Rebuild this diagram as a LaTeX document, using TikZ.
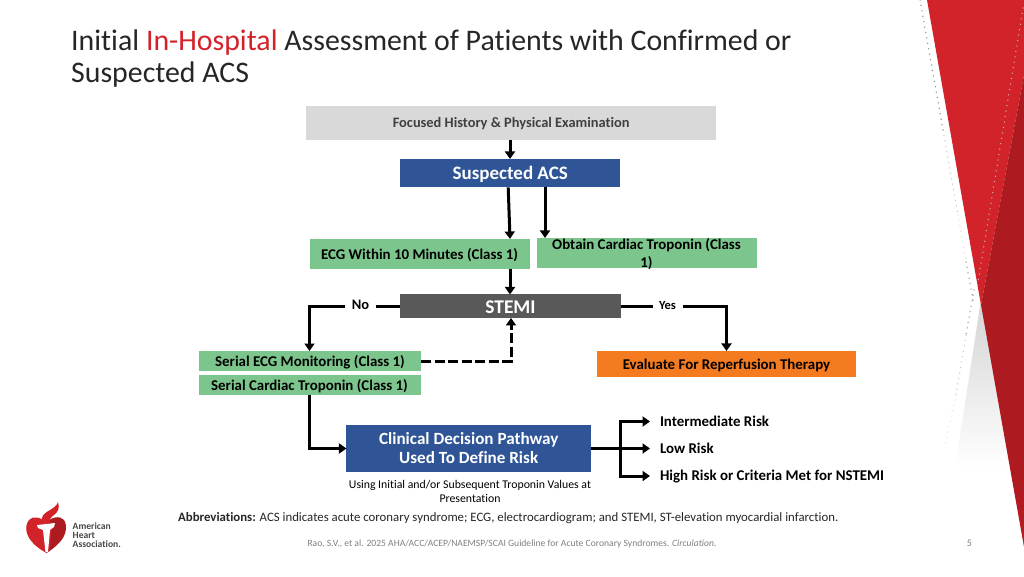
\documentclass[tikz,border=0pt]{standalone}
\usepackage{fontspec}
\setmainfont[Ligatures=NoCommon]{Carlito}
\usetikzlibrary{arrows.meta,calc}
\definecolor{ahared}{HTML}{D2232A}
\definecolor{ahadark}{HTML}{AD1A20}
\definecolor{titleink}{HTML}{262626}
\definecolor{boxblue}{HTML}{2F5597}
\definecolor{boxgreen}{HTML}{7CC68D}
\definecolor{boxgrey}{HTML}{D9D9D9}
\definecolor{boxdark}{HTML}{595959}
\definecolor{boxorange}{HTML}{F47B20}
\pgfdeclareverticalshading{ahafade}{100bp}{color(0bp)=(ahared); color(10bp)=(ahared); color(33bp)=(ahadark); color(100bp)=(ahadark)}
\newcommand{\fs}[1]{\fontsize{#1}{#1}\selectfont}
\newcommand{\lowered}[2][1pt]{\raisebox{-#1}[\height][\depth]{#2}}
\tikzset{
  x=1pt,y=-1pt,
  flowbox/.style={rectangle,inner sep=0pt,outer sep=0pt,align=center,font=\bfseries\fs{14.9}},
  conn/.style={line width=3pt,draw=black,-{Triangle[length=7.5pt,width=10pt]}},
  plainconn/.style={line width=3pt,draw=black},
  plainlabel/.style={inner sep=0pt,outer sep=0pt,font=\bfseries\fs{14.5},text=black},
  dotline/.style={line width=1.5pt,line cap=round,dash pattern=on 0pt off 5.5pt},
}
\begin{document}
\begin{tikzpicture}
\useasboundingbox (0,0) rectangle (1024,576);
\fill[white] (0,0) rectangle (1024,576);
% corner decoration
\shade[top color=black!17,bottom color=white] (981,300) -- (955,468) -- (1012,468) -- cycle;
\fill[ahared] (927,0) -- (1024,0) -- (1024,75) -- (981,305) -- cycle;
\shade[shading=ahafade] (1024,75) -- (981,305) -- (1024,547) -- cycle;
\draw[dotline,black!45] (920,0) -- (943,130);
\draw[dotline,black!22] (943,130) -- (958,215);
\draw[dotline,black!12] (958,215) -- (966,262);
\draw[dotline,black!40] (966,262) -- (974,305);
\draw[dotline,black!38] (974,290) -- (966,335);
\draw[dotline,black!22] (966,335) -- (955,400);
\draw[dotline,black!10] (955,400) -- (945,445);
\draw[dotline,color=ahared!45!black!35!white] (1023,8) -- (977,288);
% title
\node[anchor=base west,inner sep=0pt,text=titleink,font=\fs{29.85}] (title1) at (71,50.5) {Initial \textcolor{ahared}{In-Hospital} Assessment of Patients with Confirmed or};
\node[anchor=base west,inner sep=0pt,text=titleink,font=\fs{29.85}] (title2) at (71,82.5) {Suspected ACS};
% boxes
\node[flowbox,fill=boxgrey,text=black!75,minimum width=410.5pt,minimum height=34pt,font=\bfseries\fs{14.4}] (hist) at (511.2,122.5) {\lowered{Focused History \& Physical Examination}};
\node[flowbox,fill=boxblue,text=white,minimum width=220.5pt,minimum height=28.5pt,font=\bfseries\fs{19}] (acs) at (510.2,173.2) {\lowered{Suspected ACS}};
\node[flowbox,fill=boxgreen,text=black,minimum width=220pt,minimum height=30.5pt] (ecg) at (419.5,254.2) {\lowered{ECG Within 10 Minutes (Class 1)}};
\node[flowbox,fill=boxgreen,minimum width=220pt,minimum height=30.5pt,label={[inner sep=0pt,align=center,text=black,font=\bfseries\fontsize{14.9}{18}\selectfont,yshift=-1pt]center:{Obtain Cardiac Troponin (Class\\1)}}] (trop) at (646.5,253.2) {};
\node[flowbox,fill=boxdark,text=white,minimum width=221pt,minimum height=23.5pt,font=\bfseries\fs{19.4}] (stemi) at (510.5,306.2) {\lowered{STEMI}};
\node[flowbox,fill=boxgreen,text=black,minimum width=222pt,minimum height=20pt] (secg) at (310,361) {\lowered{Serial ECG Monitoring (Class 1)}};
\node[flowbox,fill=boxgreen,text=black,minimum width=222pt,minimum height=19.5pt] (strop) at (309.5,385.2) {\lowered{Serial Cardiac Troponin (Class 1)}};
\node[flowbox,fill=boxorange,text=black,minimum width=259pt,minimum height=26.5pt] (reperf) at (726.5,364.2) {\lowered[1.5pt]{Evaluate For Reperfusion Therapy}};
\node[flowbox,fill=boxblue,text=white,minimum width=244.5pt,minimum height=47pt,font=\bfseries\fontsize{17.1}{19}\selectfont] (cdp) at (468.7,448.5) {Clinical Decision Pathway\\Used To Define Risk};
% labels
\node[plainlabel,minimum width=31pt] (no) at (360.5,304.5) {No};
\node[plainlabel,minimum width=30pt,font=\bfseries\fs{12.5}] (yes) at (667.5,305.8) {Yes};
\node[plainlabel,anchor=west,font=\bfseries\fs{14.9}] (irisk) at (660,421.5) {Intermediate Risk};
\node[plainlabel,anchor=west,font=\bfseries\fs{14.9}] (lrisk) at (660,448.8) {Low Risk};
\node[plainlabel,anchor=west,font=\bfseries\fs{14.9}] (hrisk) at (660,477) {High Risk or Criteria Met for NSTEMI};
\node[inner sep=0pt,align=center,text=black,font=\fontsize{11.8}{14.5}\selectfont] (note) at (470,491.3) {Using Initial and/or Subsequent Troponin Values at\\Presentation};
\node[anchor=west,inner sep=0pt,text=titleink,font=\fs{12.8}] (abbr) at (178,518.5) {\textbf{Abbreviations:} ACS indicates acute coronary syndrome; ECG, electrocardiogram; and STEMI, ST-elevation myocardial infarction.};
\node[inner sep=0pt,text=black!50,font=\fs{9.6}] (cite) at (512,543.5) {Rao, S.V., et al. 2025 AHA/ACC/ACEP/NAEMSP/SCAI Guideline for Acute Coronary Syndromes. \textit{Circulation.}};
\node[inner sep=0pt,text=black!50,font=\fs{10}] (page) at (969.5,543.5) {5};
% connectors
\draw[conn] (hist.south -| 510,0) -- (acs.north -| 510,0);
\draw[conn] ($(acs.south)+(-2,0)$) -- (ecg.north -| 510,0);
\draw[conn] (acs.south -| 545,0) -- (trop.north -| 545,0);
\draw[conn] (ecg.south -| 510,0) -- (stemi.north -| 510,0);
\draw[plainconn] (stemi.west) -- (no.east |- stemi.west);
\draw[conn] (no.west |- stemi.west) -| (secg.north -| 309.5,0);
\draw[plainconn] (stemi.east) -- (yes.west |- stemi.east);
\draw[conn] (yes.east |- stemi.east) -| (reperf.north);
\draw[conn,dash pattern=on 10pt off 3.5pt] (secg.east) -| (stemi.south -| 511,0);
\draw[conn] (strop.south -| 309.5,0) |- (cdp.west);
\coordinate (fork) at (620,448);
\coordinate (itip) at (650,421.5);
\coordinate (ltip) at (650,448.5);
\coordinate (htip) at (650,476);
\draw[conn] (cdp.east) -- (ltip);
\draw[conn] (fork) |- (itip);
\draw[conn] (fork) |- (htip);
% logo
\fill[ahared] (46,524) .. controls (42,517) and (33,515) .. (29,520) .. controls (24,526) and (26,536) .. (33,543) .. controls (38,548) and (43,551) .. (46.5,553) -- cycle;
\fill[ahadark] (46,524) .. controls (50,517) and (60,515) .. (64,520) .. controls (68,526) and (66,536) .. (59,543) .. controls (54,548) and (50,551) .. (46.5,553) -- cycle;
\fill[ahared] (47,553) .. controls (44,551) and (38,548) .. (33,543) -- (46,526) -- (52,526) -- (50,546) -- cycle;
\fill[white] (37,525) -- (55,523) -- (54,527) -- (50,530) -- (48,552) -- (45.5,552) -- (43,530) -- (38,528) -- cycle;
\fill[ahared] (43,524) .. controls (39,516) and (45,513) .. (50,510) .. controls (53,508) and (57,506) .. (58,502) .. controls (60,508) and (58,512) .. (54,515) .. controls (51,517) and (49,520) .. (50,523) -- cycle;
\node[anchor=north west,inner sep=0pt,align=left,text=black!72,font=\bfseries\fontsize{9.6}{8.8}\selectfont] (logotext) at (72.5,523) {American\\Heart\\Association.};
\end{tikzpicture}
\end{document}
